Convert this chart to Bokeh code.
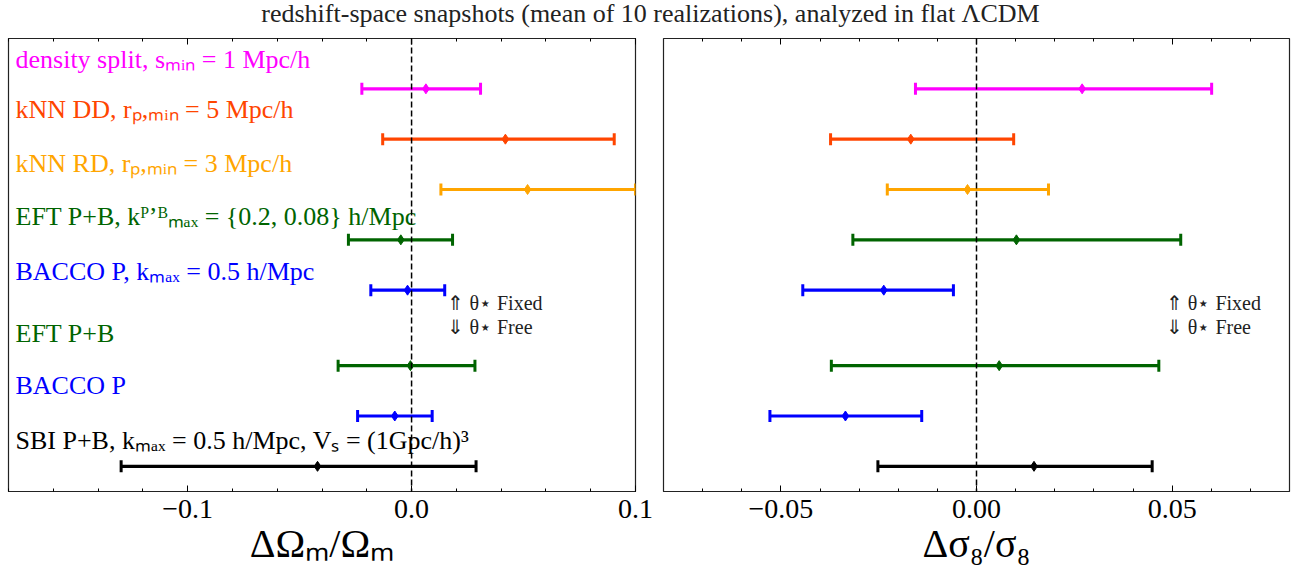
import math
from bokeh.plotting import figure
from bokeh.layouts import column, row
from bokeh.models import (Range1d, FixedTicker, LinearAxis, Span, Label,
                          ColumnDataSource)
from bokeh.core.properties import value
from bokeh.embed import file_html
from bokeh.resources import INLINE

# ---------------- data ----------------
title_text = "redshift-space snapshots (mean of 10 realizations), analyzed in flat \u039bCDM"

labels = [
    "density split, s\u2098\u1d62\u2099 = 1 Mpc/h",
    "kNN DD, r\u209a,\u2098\u1d62\u2099 = 5 Mpc/h",
    "kNN RD, r\u209a,\u2098\u1d62\u2099 = 3 Mpc/h",
    "EFT P+B, k\u1d3e\u02bc\u1d2e\u2098\u2090\u2093 = {0.2, 0.08} h/Mpc",
    "BACCO P, k\u2098\u2090\u2093 = 0.5 h/Mpc",
    "EFT P+B",
    "BACCO P",
    "SBI P+B, k\u2098\u2090\u2093 = 0.5 h/Mpc, V\u209b = (1Gpc/h)\u00b3",
]
colors = ["magenta", "orangered", "orange", "darkgreen", "blue",
          "darkgreen", "blue", "black"]
row_y = [8.0, 7.0, 6.0, 5.0, 4.0, 2.5, 1.5, 0.5]
label_y = [8.58, 7.59, 6.52, 5.47, 4.38, 3.13, 2.10, 1.01]

om_mean = [0.0064, 0.0419, 0.0518, -0.0048, -0.0018, -0.0005, -0.0075, -0.0420]
om_lo = [-0.0222, -0.0129, 0.0131, -0.0282, -0.0182, -0.0328, -0.0241, -0.1297]
om_hi = [0.0308, 0.0905, 0.1000, 0.0183, 0.0148, 0.0283, 0.0092, 0.0288]

s8_mean = [0.0270, -0.0168, -0.0023, 0.0102, -0.0237, 0.0058, -0.0335, 0.0147]
s8_lo = [-0.0156, -0.0373, -0.0228, -0.0316, -0.0444, -0.0371, -0.0528, -0.0252]
s8_hi = [0.0601, 0.0095, 0.0184, 0.0522, -0.0059, 0.0466, -0.0140, 0.0449]

om_ticks = [-0.1, 0.0, 0.1]
om_tick_labels = ["\u22120.1", "0.0", "0.1"]
om_minor = [-0.18, -0.16, -0.14, -0.12, -0.1, -0.08, -0.06, -0.04, -0.02,
            0.0, 0.02, 0.04, 0.06, 0.08, 0.1]
s8_ticks = [-0.05, 0.0, 0.05]
s8_tick_labels = ["\u22120.05", "0.00", "0.05"]
s8_minor = [-0.07, -0.06, -0.05, -0.04, -0.03, -0.02, -0.01, 0.0,
            0.01, 0.02, 0.03, 0.04, 0.05, 0.06, 0.07]

fixed_label = "\u21d1 \u03b8\u22c6 Fixed"
free_label = "\u21d3 \u03b8\u22c6 Free"

FONT = "Liberation Serif"


def make_panel(xr, mean, lo, hi, ticks, tick_labels, minor, xlabel,
               width, bl, br, show_labels, note_x):
    p = figure(width=width, height=539, x_range=Range1d(*xr),
               y_range=Range1d(0, 9), toolbar_location=None,
               output_backend="svg", min_border_left=bl,
               min_border_right=br, min_border_top=8, min_border_bottom=78)
    p.yaxis.visible = False
    p.xgrid.visible = False
    p.ygrid.visible = False
    p.outline_line_color = "#222222"
    p.outline_line_width = 1.2

    ticker = FixedTicker(ticks=ticks, minor_ticks=minor)
    ax = p.xaxis[0]
    ax.ticker = ticker
    ax.major_label_overrides = {t: l for t, l in zip(ticks, tick_labels)}
    ax.major_tick_in = 6
    ax.major_tick_out = 0
    ax.minor_tick_in = 3
    ax.minor_tick_out = 0
    ax.major_label_standoff = 8
    ax.major_label_text_font = FONT
    ax.major_label_text_font_size = "28px"
    ax.major_label_text_color = "black"
    ax.axis_line_color = "#222222"
    ax.axis_label = xlabel
    ax.axis_label_text_font = FONT
    ax.axis_label_text_font_style = "normal"
    ax.axis_label_text_font_size = "40px"
    ax.axis_label_text_color = "black"
    ax.axis_label_standoff = 0

    top = LinearAxis(ticker=ticker, major_label_text_font_size="1px",
                     major_label_text_color=None,
                     major_tick_in=6, major_tick_out=0, minor_tick_in=3,
                     minor_tick_out=0, axis_line_color=None,
                     major_label_standoff=0)
    p.add_layout(top, "above")

    p.add_layout(Span(location=0, dimension="height", line_color="black",
                      line_width=1.5, line_dash="6 3"))

    src = ColumnDataSource(dict(y=row_y, lo=lo, hi=hi, mean=mean,
                                color=colors, label_y=label_y,
                                label=labels))
    p.segment(x0="lo", x1="hi", y0="y", y1="y", line_color="color",
              line_width=3.2, source=src)
    p.scatter(x="lo", y="y", marker="dash", angle=math.pi / 2, size=12,
              line_color="color", line_width=3, source=src)
    p.scatter(x="hi", y="y", marker="dash", angle=math.pi / 2, size=12,
              line_color="color", line_width=3, source=src)
    p.scatter(x="mean", y="y", marker="diamond", size=10, color="color",
              source=src)

    if show_labels:
        p.text(x=xr[0], y="label_y", text="label", text_color="color",
               x_offset=7, text_baseline="middle", text_align="left",
               text_font=value(FONT), text_font_size="26px", source=src)

    p.add_layout(Label(x=note_x, y=3.75, text=fixed_label,
                       text_font=FONT, text_font_size="20px",
                       text_baseline="middle", text_color="#222222"))
    p.add_layout(Label(x=note_x, y=3.27, text=free_label,
                       text_font=FONT, text_font_size="20px",
                       text_baseline="middle", text_color="#222222"))
    return p


left = make_panel((-0.18, 0.1), om_mean, om_lo, om_hi, om_ticks,
                  om_tick_labels, om_minor, "\u0394\u03a9\u2098/\u03a9\u2098",
                  653, 8, 18, True, 0.016)
right = make_panel((-0.08, 0.08), s8_mean, s8_lo, s8_hi, s8_ticks,
                   s8_tick_labels, s8_minor, "\u0394\u03c3\u2088/\u03c3\u2088",
                   640, 10, 4, False, 0.0484)

title_fig = figure(width=1293, height=30, x_range=Range1d(0, 1),
                   y_range=Range1d(0, 1), toolbar_location=None,
                   output_backend="svg", min_border=0)
title_fig.axis.visible = False
title_fig.grid.visible = False
title_fig.outline_line_color = None
title_fig.add_layout(Label(x=650, y=17, x_units="screen", y_units="screen",
                           text=title_text, text_font=FONT,
                           text_font_size="26px", text_align="center",
                           text_baseline="middle", text_color="#222222"))

layout = column(title_fig, row(left, right, spacing=0), spacing=0)

open("out.html", "w").write(file_html(layout, INLINE))
